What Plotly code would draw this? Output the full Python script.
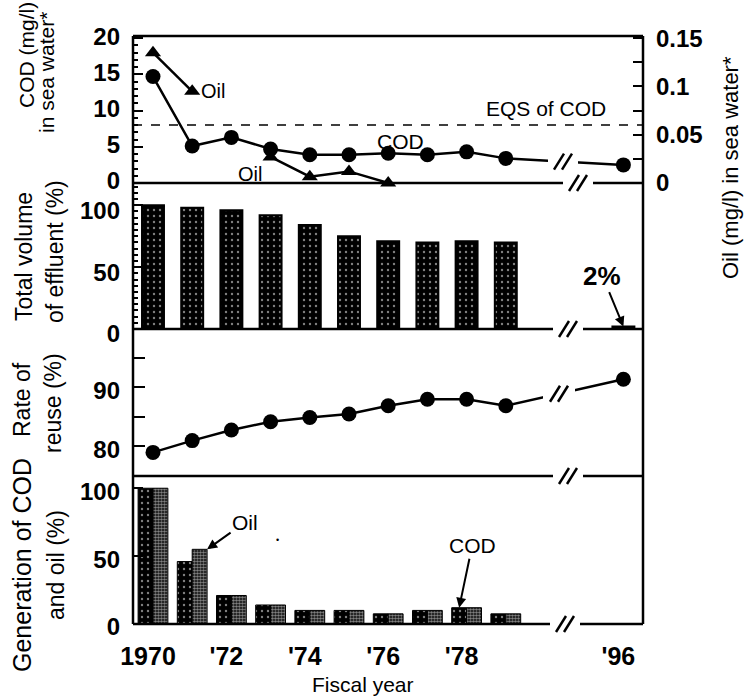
import plotly.graph_objects as go

# ---------------- data ----------------
years = [1970, 1971, 1972, 1973, 1974, 1975, 1976, 1977, 1978, 1979, 1996]
cod_sea = [14.7, 5.1, 6.3, 4.7, 3.9, 3.9, 4.1, 3.9, 4.3, 3.4, 2.5]          # mg/l
oil_sea = [0.135, 0.095, None, 0.027, 0.0065, 0.012, 0.0, None, None, None, None]  # mg/l
effluent = [100, 98, 96, 92, 84, 75, 71, 70, 71, 70, 2]                      # %
reuse = [79.0, 81.0, 82.8, 84.2, 84.9, 85.5, 86.9, 88.0, 88.0, 86.9, 91.4]   # %
gen_cod = [100, 46, 21, 14, 10, 10, 7.5, 10, 12, 7.5, None]                  # %
gen_oil = [100, 55, 21, 14, 10, 10, 7.5, 10, 12, 7.5, None]                  # %
tick_years = [1970, 1972, 1974, 1976, 1978, 1996]
tick_text = ["1970", "'72", "'74", "'76", "'78", "'96"]
EQS_COD = 8

# slot positions on the broken axis (two empty slots at the break)
xpos = [i if y < 1990 else i + 2 for i, y in enumerate(years)]
tickvals = [xpos[years.index(y)] for y in tick_years]

# ---------------- geometry helpers ----------------
W, H = 745, 698
FONT = "Liberation Sans, Arial, Helvetica, sans-serif"
L, R = 133, 643
B = [36, 183, 329, 476, 624]
XR = [-0.51, 12.5]
Y1R = [0, 20.3]
OILR = [0, 20.3 * 0.0075]
Y2R = [0, 118]
Y3R = [75, 99.9]
Y4R = [0, 109]


def px(x):
    return x / W


def py(y):
    return 1 - y / H


def data_px_x(p):
    return L + (p - XR[0]) / (XR[1] - XR[0]) * (R - L)


def data_px_y(v, top, bot, rng):
    return bot - (v - rng[0]) / (rng[1] - rng[0]) * (bot - top)


tickfont = dict(family=FONT, size=24, color="black", weight="bold")
txtfont = dict(family=FONT, size=21, color="black")

fig = go.Figure()

# panel 1: sea water quality
fig.add_trace(go.Scatter(x=xpos, y=oil_sea, mode="lines+markers", xaxis="x", yaxis="y5",
                         line=dict(color="black", width=2.5), connectgaps=False,
                         marker=dict(symbol="triangle-up", size=14, color="black"),
                         cliponaxis=False, showlegend=False))
fig.add_trace(go.Scatter(x=xpos, y=cod_sea, mode="lines+markers", xaxis="x", yaxis="y",
                         line=dict(color="black", width=2.5),
                         marker=dict(symbol="circle", size=15, color="black"),
                         cliponaxis=False, showlegend=False))

# panel 2: effluent volume
dots = dict(shape=".", fgcolor="white", bgcolor="black", size=6, solidity=0.12, fillmode="overlay")
fig.add_trace(go.Bar(x=xpos, y=effluent, xaxis="x2", yaxis="y2", width=0.56,
                     marker=dict(color="black", line=dict(color="black", width=2), pattern=dots),
                     showlegend=False))

# panel 3: reuse rate
fig.add_trace(go.Scatter(x=xpos, y=reuse, mode="lines+markers", xaxis="x3", yaxis="y3",
                         line=dict(color="black", width=2.5),
                         marker=dict(symbol="circle", size=15, color="black"),
                         cliponaxis=False, showlegend=False))

# panel 4: generation of COD and oil
W4 = 0.38
fig.add_trace(go.Bar(x=xpos, y=gen_cod, xaxis="x4", yaxis="y4", width=W4, offset=-W4,
                     marker=dict(color="black", line=dict(color="black", width=1), pattern=dots),
                     showlegend=False))
fig.add_trace(go.Bar(x=xpos, y=gen_oil, xaxis="x4", yaxis="y4", width=W4, offset=0,
                     marker=dict(color="black", line=dict(color="black", width=1),
                                 pattern=dict(shape=".", fgcolor="white", bgcolor="black",
                                              size=3, solidity=0.6, fillmode="overlay")),
                     showlegend=False))

xcommon = dict(range=XR, domain=[px(L), px(R)], showgrid=False, zeroline=False,
               showline=False, showticklabels=False, ticks="", automargin=False)
ycommon = dict(showgrid=False, zeroline=False, showline=False, ticks="inside",
               ticklen=10, tickwidth=2, tickcolor="black", tickfont=tickfont,
               ticklabelstandoff=12, automargin=False)

layout = dict(
    width=W, height=H, margin=dict(l=0, r=0, t=0, b=0, pad=0, autoexpand=False),
    paper_bgcolor="white", plot_bgcolor="white", barmode="overlay",
    xaxis=dict(xcommon, anchor="y"),
    xaxis2=dict(xcommon, anchor="y2"),
    xaxis3=dict(xcommon, anchor="y3"),
    xaxis4=dict(xcommon, anchor="y4", showticklabels=True, tickmode="array",
                tickvals=tickvals, ticktext=tick_text,
                tickfont=dict(family=FONT, size=25, color="black", weight="bold"),
                ticklabelstandoff=15, ticklabelshift=-5),
    yaxis=dict(ycommon, anchor="x", domain=[py(B[1]), py(B[0])], range=Y1R, tick0=0, dtick=5,
               ticklabelshift=-2,
               minor=dict(ticks="inside", dtick=1, tick0=0, ticklen=5, tickwidth=1.5, tickcolor="black")),
    yaxis5=dict(ycommon, anchor="x", overlaying="y", side="right", range=OILR, tick0=0, dtick=0.05,
                minor=dict(ticks="inside", dtick=0.025, tick0=0, ticklen=10, tickwidth=2, tickcolor="black")),
    yaxis2=dict(ycommon, anchor="x2", domain=[py(B[2]), py(B[1])], range=Y2R, tick0=0, dtick=50,
                ticklabelshift=5,
                minor=dict(ticks="inside", dtick=5, tick0=0, ticklen=5, tickwidth=1.5, tickcolor="black")),
    yaxis3=dict(ycommon, anchor="x3", domain=[py(B[3]), py(B[2])], range=Y3R, tick0=0, dtick=10, ticklen=12,
                ticklabelshift=3,
                minor=dict(ticks="inside", dtick=5, tick0=0, ticklen=12, tickwidth=2, tickcolor="black")),
    yaxis4=dict(ycommon, anchor="x4", domain=[py(B[4]), py(B[3])], range=Y4R, tick0=0, dtick=50,
                ticklabelshift=3),
)
fig.update_layout(**layout)

# ---------------- frame with axis breaks ----------------
shapes = []


def seg(x0, y0, x1, y1, w=2.5):
    shapes.append(dict(type="line", xref="paper", yref="paper",
                       x0=px(x0), y0=py(y0), x1=px(x1), y1=py(y1),
                       line=dict(color="black", width=w)))


def slashes(cx, cy):
    for d in (-4, 4):
        seg(cx + d - 5, cy + 8, cx + d + 5, cy - 8, 2.5)


# EQS line
shapes.append(dict(type="line", xref="x domain", yref="y", x0=0, x1=1, y0=EQS_COD, y1=EQS_COD,
                   line=dict(color="black", width=1.5, dash="dash")))

# masks + slashes on the data lines at the break
for vals, top, bot, rng, g0, g1 in [(cod_sea, B[0], B[1], Y1R, 548, 578),
                                      (reuse, B[2], B[3], Y3R, 543, 575)]:
    xa, xb = data_px_x(xpos[-2]), data_px_x(xpos[-1])
    ya, yb = data_px_y(vals[-2], top, bot, rng), data_px_y(vals[-1], top, bot, rng)
    cx = (g0 + g1) / 2
    cy = ya + (yb - ya) * (cx - xa) / (xb - xa)
    shapes.append(dict(type="rect", xref="paper", yref="paper", x0=px(g0), x1=px(g1),
                       y0=py(cy + 9), y1=py(cy - 9), fillcolor="white", line=dict(width=0)))
    slashes(cx, cy)

# verticals and top
seg(L, B[0], L, B[4], 2.5)
seg(R, B[0], R, B[4], 2.5)
seg(L, B[0], R, B[0], 2.5)
for y, g0, g1 in [(B[1], 563, 593), (B[2], 553, 583), (B[3], 553, 583), (B[4], 550, 580)]:
    seg(L, y, g0, y)
    seg(g1, y, R, y)
    slashes((g0 + g1) / 2, y)

fig.update_layout(shapes=shapes)

# ---------------- annotations ----------------
ann = []


def ptext(t, x, y, size=21, angle=0, bold=False):
    f = dict(family=FONT, size=size, color="black")
    if bold:
        f["weight"] = "bold"
    ann.append(dict(text=t, xref="paper", yref="paper", x=px(x), y=py(y), showarrow=False,
                    textangle=angle, xanchor="center", yanchor="middle", font=f))


ptext("COD (mg/l)", 27, 55, 21, -90)
ptext("in sea water*", 46, 73, 21, -90)
ptext("Total volume", 24, 257, 23, -90)
ptext("of effluent (%)", 55, 252, 23, -90)
ptext("Rate of", 22, 400, 23, -90)
ptext("reuse (%)", 53, 403, 23, -90)
ptext("Generation of COD", 22, 565, 25, -90)
ptext("and oil (%)", 56, 565, 23, -90)
ptext("Oil (mg/l) in sea water*", 731, 168, 22, -90)
ptext("Fiscal year", 363, 684, 21)
ptext("Oil", 250, 174, 20)
ptext("COD", 400, 141, 21)
ptext("EQS of COD", 546, 108, 21)
ptext("•", 277, 540, 9)

ann.append(dict(text="Oil", xref="x", yref="y5", x=xpos[1], y=oil_sea[1], showarrow=False,
                xanchor="left", yanchor="middle", xshift=7, font=dict(family=FONT, size=20, color="black")))
ann.append(dict(text="2%", xref="x2", yref="y2", x=xpos[10], y=effluent[10], ax=-21, ay=-51,
                showarrow=True, arrowhead=2, arrowsize=1, arrowwidth=2, arrowcolor="black",
                font=dict(family=FONT, size=26, color="black", weight="bold")))
ann.append(dict(text="Oil", xref="x4", yref="y4", x=xpos[1] + W4, y=gen_oil[1], ax=38, ay=-27,
                showarrow=True, arrowhead=2, arrowsize=1, arrowwidth=2, arrowcolor="black",
                font=txtfont))
ann.append(dict(text="COD", xref="x4", yref="y4", x=xpos[8] - W4 / 2, y=gen_cod[8], ax=13, ay=-62,
                showarrow=True, arrowhead=2, arrowsize=1, arrowwidth=2, arrowcolor="black",
                font=txtfont))
fig.update_layout(annotations=ann)

fig.write_html("out.html", config={"displayModeBar": False},
               post_script="document.body.style.margin='0';document.body.style.overflow='hidden';")
